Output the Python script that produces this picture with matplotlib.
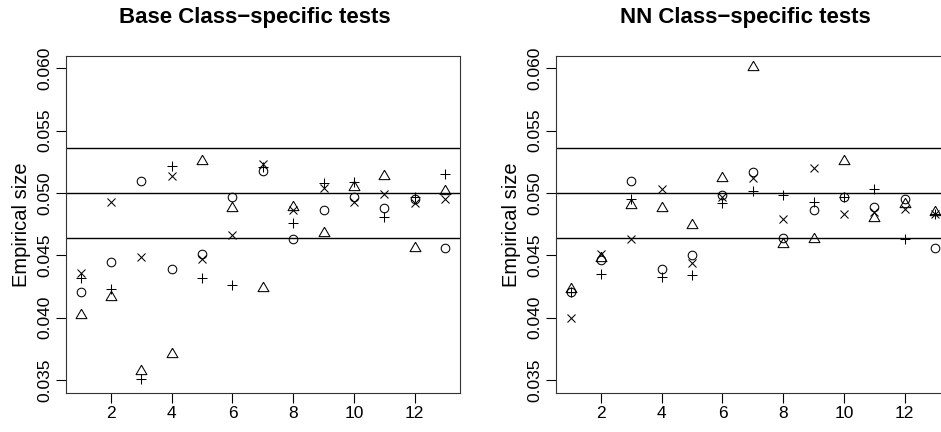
import matplotlib
matplotlib.use("Agg")
import matplotlib.pyplot as plt
import numpy as np

plt.rcParams['font.family'] = ['Liberation Sans', 'DejaVu Sans']

x = list(range(1, 14))

# Base Class-specific tests
base_circle   = [0.0421, 0.0445, 0.0510, 0.0439, 0.0451, 0.0497, 0.0518, 0.0463, 0.0486, 0.0497, 0.0488, 0.0495, 0.0456]
base_triangle = [0.0402, 0.0417, 0.0357, 0.0371, 0.0526, 0.0488, 0.0424, 0.0489, 0.0468, 0.0505, 0.0514, 0.0456, 0.0502]
base_plus     = [0.0432, 0.0423, 0.0351, 0.0522, 0.0432, 0.0426, 0.0521, 0.0476, 0.0508, 0.0509, 0.0481, 0.0497, 0.0515]
base_cross    = [0.0436, 0.0493, 0.0449, 0.0514, 0.0447, 0.0466, 0.0523, 0.0486, 0.0504, 0.0493, 0.0499, 0.0492, 0.0495]

# NN Class-specific tests
nn_circle   = [0.0421, 0.0446, 0.0510, 0.0439, 0.0450, 0.0498, 0.0517, 0.0464, 0.0486, 0.0497, 0.0489, 0.0495, 0.0456]
nn_triangle = [0.0423, 0.0448, 0.0490, 0.0488, 0.0474, 0.0512, 0.0601, 0.0459, 0.0463, 0.0526, 0.0480, 0.0491, 0.0485]
nn_plus     = [0.0421, 0.0435, 0.0495, 0.0433, 0.0434, 0.0492, 0.0502, 0.0498, 0.0493, 0.0497, 0.0503, 0.0463, 0.0483]
nn_cross    = [0.0400, 0.0451, 0.0463, 0.0503, 0.0444, 0.0497, 0.0512, 0.0479, 0.0520, 0.0483, 0.0485, 0.0487, 0.0483]

ref_lines = [0.05 - 0.0036, 0.05, 0.05 + 0.0036]
yticks = [0.035, 0.040, 0.045, 0.050, 0.055, 0.060]
xticks = [2, 4, 6, 8, 10, 12]
titles = ["Base Class\u2212specific tests", "NN Class\u2212specific tests"]

W, H = 941, 432
fig = plt.figure(figsize=(W / 100, H / 100), dpi=100)
fig.patch.set_facecolor('white')

def fx(px):
    return px / W

def fy(py):
    return 1 - py / H

ax_top, ax_bot = 55.7, 392.7
ax_w = 459.7 - 66
lefts = [66, 556]

series_sets = [
    (base_circle, base_triangle, base_plus, base_cross),
    (nn_circle, nn_triangle, nn_plus, nn_cross),
]

tri = [(0, 0.62), (-0.54, -0.31), (0.54, -0.31), (0, 0.62)]
title_y = 1.0 + (ax_top - 17) / (ax_bot - ax_top)

for i, (left, title, data) in enumerate(zip(lefts, titles, series_sets)):
    ax = fig.add_axes([fx(left), fy(ax_bot), fx(ax_w), (ax_bot - ax_top) / H])
    circ, triv, plus, cross = data
    for yv in ref_lines:
        ax.axhline(yv, color='black', lw=1.0, zorder=1)
    kw = dict(linestyle='none', color='black', mfc='none', mew=0.75, zorder=3)
    ax.plot(x, circ, marker='o', markersize=6.2, **kw)
    ax.plot(x, triv, marker=tri, markersize=9.0, **kw)
    ax.plot(x, plus, marker='+', markersize=7.5, **kw)
    ax.plot(x, cross, marker='x', markersize=6.0, **kw)
    ax.set_xlim(0.52, 13.48)
    ax.set_ylim(0.034, 0.061)
    ax.set_xticks(xticks)
    ax.set_xticklabels([str(t) for t in xticks])
    ax.set_yticks(yticks)
    ax.set_yticklabels([f"{t:.3f}" for t in yticks], rotation=90, va='center')
    ax.tick_params(direction='out', length=7.2, width=0.8, labelsize=12.5, pad=2.5, color='black')
    for s in ax.spines.values():
        s.set_linewidth(0.8)
        s.set_color('#333333')
    ax.set_ylabel("Empirical size", fontsize=14.5, labelpad=4.5)
    ax.text(0.48, title_y, title, transform=ax.transAxes, ha='center', va='center',
            fontsize=16, fontweight='bold')

fig.savefig("out.png", dpi=100, facecolor='white')
